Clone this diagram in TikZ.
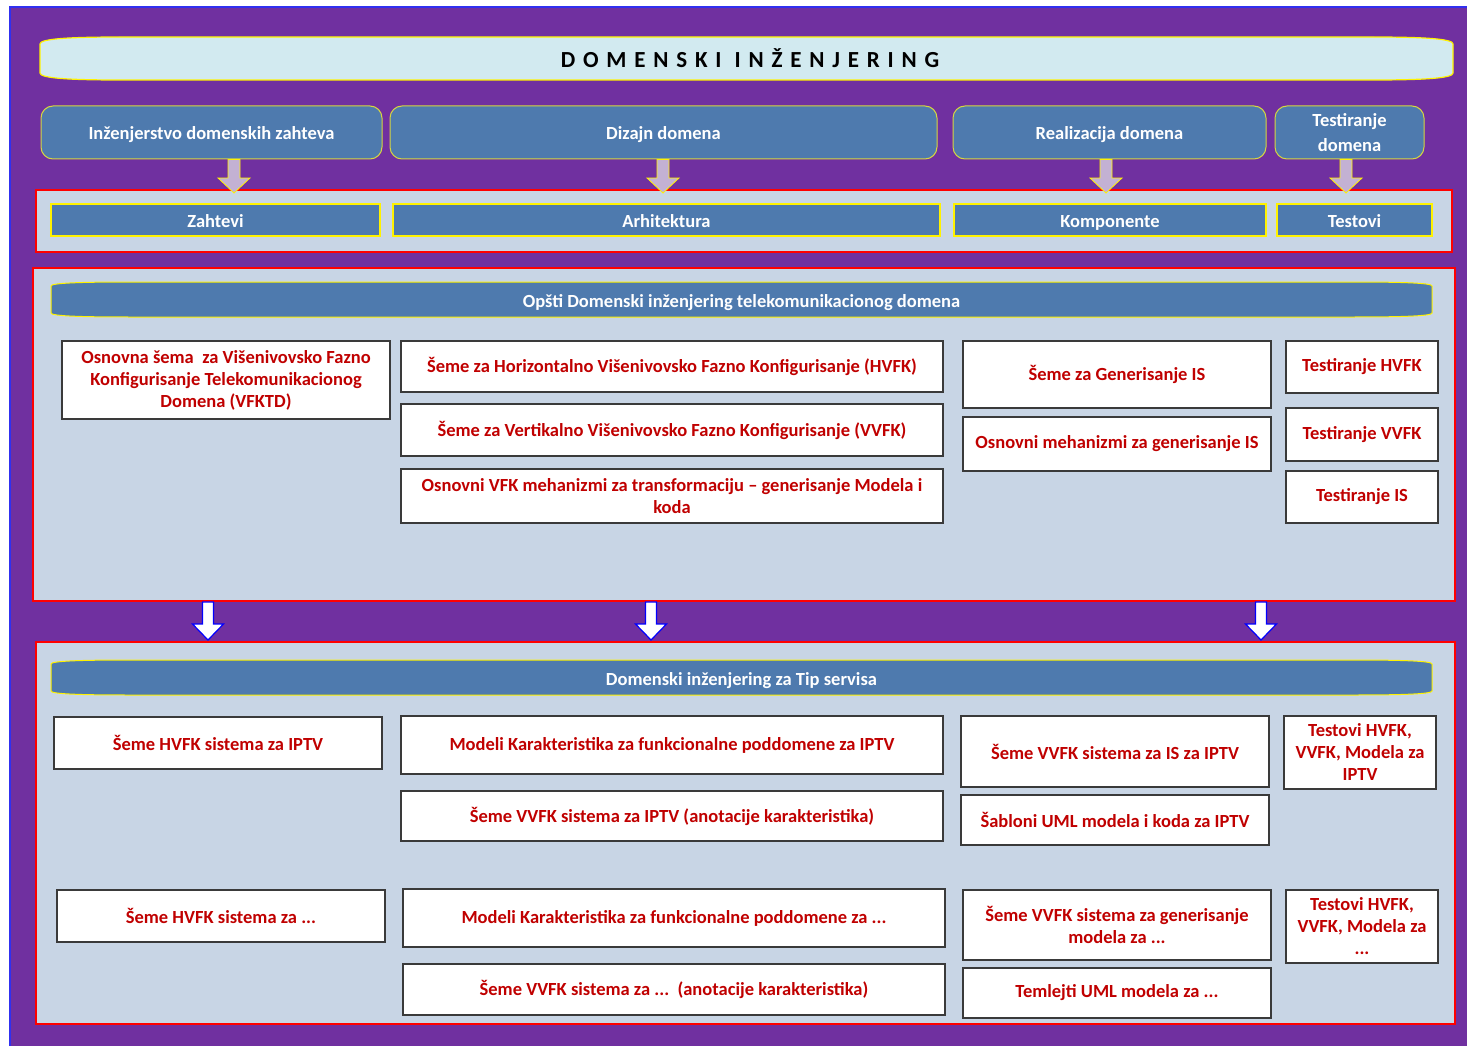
\documentclass[tikz,border=0pt]{standalone}
\usepackage{fontspec}
\setmainfont{Carlito}
\usetikzlibrary{calc}
\definecolor{purp}{HTML}{7030A0}
\definecolor{bandc}{HTML}{C8D5E5}
\definecolor{steel}{HTML}{4E7AAE}
\definecolor{ttl}{HTML}{D2EAF0}
\definecolor{lav}{HTML}{C3B1D3}
\definecolor{dred}{HTML}{C00000}
\definecolor{olivey}{HTML}{D6D640}
\definecolor{bord}{HTML}{3A3A3A}
\definecolor{edgeblue}{HTML}{3030F0}
\newcommand\bx[7]{\node[#6, minimum width={(#4-#2)*1pt}, minimum height={(#5-#3)*1pt}] (#1) at ({(#2+#4)/2},{(#3+#5)/2}) {#7};}
\newcommand\scroll[6]{%
\path[#6] (#1,{#2+#5}) .. controls (#1,{#2+0.3*#5}) and ({#1+25},#2) .. ({#1+80},#2) -- ({#3-80},#2) .. controls ({#3-25},#2) and (#3,{#2+0.3*#5}) .. (#3,{#2+#5}) -- (#3,{#4-#5}) .. controls (#3,{#4-0.3*#5}) and ({#3-25},#4) .. ({#3-80},#4) -- ({#1+80},#4) .. controls ({#1+25},#4) and (#1,{#4-0.3*#5}) .. (#1,{#4-#5}) -- cycle;}
\newcommand\blockarrow[6]{%
\path[#6] let \p1=(#1), \p2=(#2) in ({\x1-#3pt},\y1) -- ({\x1-#3pt},{\y2+#5pt}) -- ({\x1-#4pt},{\y2+#5pt}) -- (\x1,\y2) -- ({\x1+#4pt},{\y2+#5pt}) -- ({\x1+#3pt},{\y2+#5pt}) -- ({\x1+#3pt},\y1) -- cycle;}
\begin{document}
\begin{tikzpicture}[x=1pt,y=-1pt,
  phase/.style={draw=olivey, line width=1pt, fill=steel, rounded corners=12pt, text=white, font=\bfseries\fontsize{18.5}{25}\selectfont, align=center, inner sep=0pt},
  oneline/.style={text height=16pt, text depth=2pt},
  art/.style={draw=yellow, line width=1.8pt, fill=steel, text=white, font=\bfseries\fontsize{18.5}{22}\selectfont, align=center, inner sep=0pt, oneline},
  sect/.style={draw=red, line width=1.8pt, fill=bandc, inner sep=0pt},
  rbox/.style={draw=bord, line width=1.3pt, fill=white, text=dred, font=\bfseries\fontsize{18.5}{22}\selectfont, align=center, inner sep=0pt},
  wtext/.style={text=white, font=\bfseries\fontsize{18.5}{22}\selectfont, inner sep=0pt, oneline},
  lavarrow/.style={fill=lav, draw=yellow, line width=0.8pt},
  wharrow/.style={fill=white, draw=blue, line width=1.2pt},
  banner/.style={fill=steel, draw=yellow, line width=1pt}]
\useasboundingbox (0,0) rectangle (1467,1046);
\fill[white] (0,0) rectangle (1467,1046);
\fill[purp] (9,7) rectangle (1467,1046);
\draw[edgeblue, line width=2pt] (10,1046) -- (10,7) -- (1467,7);

% title
\scroll{40}{37}{1453}{80}{7}{fill=ttl, draw=yellow, line width=1.2pt}
\node[inner sep=0pt, font=\bfseries\fontsize{23}{23}\selectfont\addfontfeature{LetterSpace=34}] (title) at (750,58) {DOMENSKI INŽENJERING};

% phases
\bx{p1}{41}{106}{382}{159}{phase,oneline}{Inženjerstvo domenskih zahteva}
\bx{p2}{390}{106}{937}{159}{phase,oneline}{Dizajn domena}
\bx{p3}{953}{106}{1266}{159}{phase,oneline}{Realizacija domena}
\bx{p4}{1275}{106}{1424}{159}{phase}{Testiranje\\domena}

% artifacts
\bx{band}{36}{190}{1452}{252}{sect}{}
\bx{z1}{51}{204}{380}{236}{art}{Zahtevi}
\bx{z2}{393}{204}{940}{236}{art}{Arhitektura}
\bx{z3}{954}{204}{1266}{236}{art}{Komponente}
\bx{z4}{1277}{204}{1432}{236}{art}{Testovi}

\coordinate (t1) at (234,193);
\coordinate (t2) at (663,193);
\coordinate (t3) at (1106,193);
\coordinate (t4) at (1346,193);
\blockarrow{t1 |- p1.south}{t1}{6}{16}{15}{lavarrow}
\blockarrow{t2 |- p2.south}{t2}{6}{16}{15}{lavarrow}
\blockarrow{t3 |- p3.south}{t3}{6}{16}{15}{lavarrow}
\blockarrow{t4 |- p4.south}{t4}{6}{16}{15}{lavarrow}

% middle section
\bx{mid}{33}{268}{1455}{601}{sect}{}
\scroll{51}{282}{1432}{317}{4}{banner}
\node[wtext] (mban) at (741.5,300) {Opšti Domenski inženjering telekomunikacionog domena};
\bx{a1}{62}{341}{390}{419}{rbox}{Osnovna šema\ \ za Višenivovsko Fazno\\Konfigurisanje Telekomunikacionog\\Domena (VFKTD)}
\bx{b1}{401}{341}{943}{392}{rbox}{Šeme za Horizontalno Višenivovsko Fazno Konfigurisanje (HVFK)}
\bx{b2}{401}{404}{943}{456}{rbox}{Šeme za Vertikalno Višenivovsko Fazno Konfigurisanje (VVFK)}
\bx{b3}{401}{469}{943}{523}{rbox}{Osnovni VFK mehanizmi za transformaciju – generisanje Modela i\\koda}
\bx{c1}{963}{341}{1271}{408}{rbox}{Šeme za Generisanje IS}
\bx{c2}{963}{417}{1271}{471}{rbox}{Osnovni mehanizmi za generisanje IS}
\bx{d1}{1286}{341}{1438}{393}{rbox}{Testiranje HVFK}
\bx{d2}{1286}{408}{1438}{461}{rbox}{Testiranje VVFK}
\bx{d3}{1286}{471}{1438}{523}{rbox}{Testiranje IS}

% bottom section
\bx{bot}{36}{642}{1455}{1024}{sect}{}
\scroll{51}{660}{1432}{695}{4}{banner}
\node[wtext] (bban) at (741.5,678) {Domenski inženjering za Tip servisa};
\bx{e1}{54}{717}{382}{769}{rbox}{Šeme HVFK sistema za IPTV}
\bx{f1}{401}{716}{943}{774}{rbox}{Modeli Karakteristika za funkcionalne poddomene za IPTV}
\bx{f2}{401}{791}{943}{841}{rbox}{Šeme VVFK sistema za IPTV (anotacije karakteristika)}
\bx{g1}{961}{716}{1269}{787}{rbox}{Šeme VVFK sistema za IS za IPTV}
\bx{g2}{961}{795}{1269}{845}{rbox}{Šabloni UML modela i koda za IPTV}
\bx{h1}{1284}{716}{1436}{789}{rbox}{Testovi HVFK,\\VVFK, Modela za\\IPTV}
\bx{e2}{57}{890}{385}{942}{rbox}{Šeme HVFK sistema za ...}
\bx{f3}{403}{889}{945}{947}{rbox}{Modeli Karakteristika za funkcionalne poddomene za ...}
\bx{f4}{403}{964}{945}{1015}{rbox}{Šeme VVFK sistema za ...\ \ (anotacije karakteristika)}
\bx{g3}{963}{890}{1271}{960}{rbox}{Šeme VVFK sistema za generisanje\\modela za ...}
\bx{g4}{963}{968}{1271}{1018}{rbox}{Temlejti UML modela za ...}
\bx{h2}{1286}{890}{1438}{963}{rbox}{Testovi HVFK,\\VVFK, Modela za\\...}

% white arrows
\coordinate (w1) at (208,640);
\coordinate (w2) at (651,640);
\coordinate (w3) at (1261,640);
\blockarrow{w1 |- mid.south}{w1}{5.5}{15.5}{16}{wharrow}
\blockarrow{w2 |- mid.south}{w2}{5.5}{15.5}{16}{wharrow}
\blockarrow{w3 |- mid.south}{w3}{5.5}{15.5}{16}{wharrow}
\end{tikzpicture}
\end{document}
